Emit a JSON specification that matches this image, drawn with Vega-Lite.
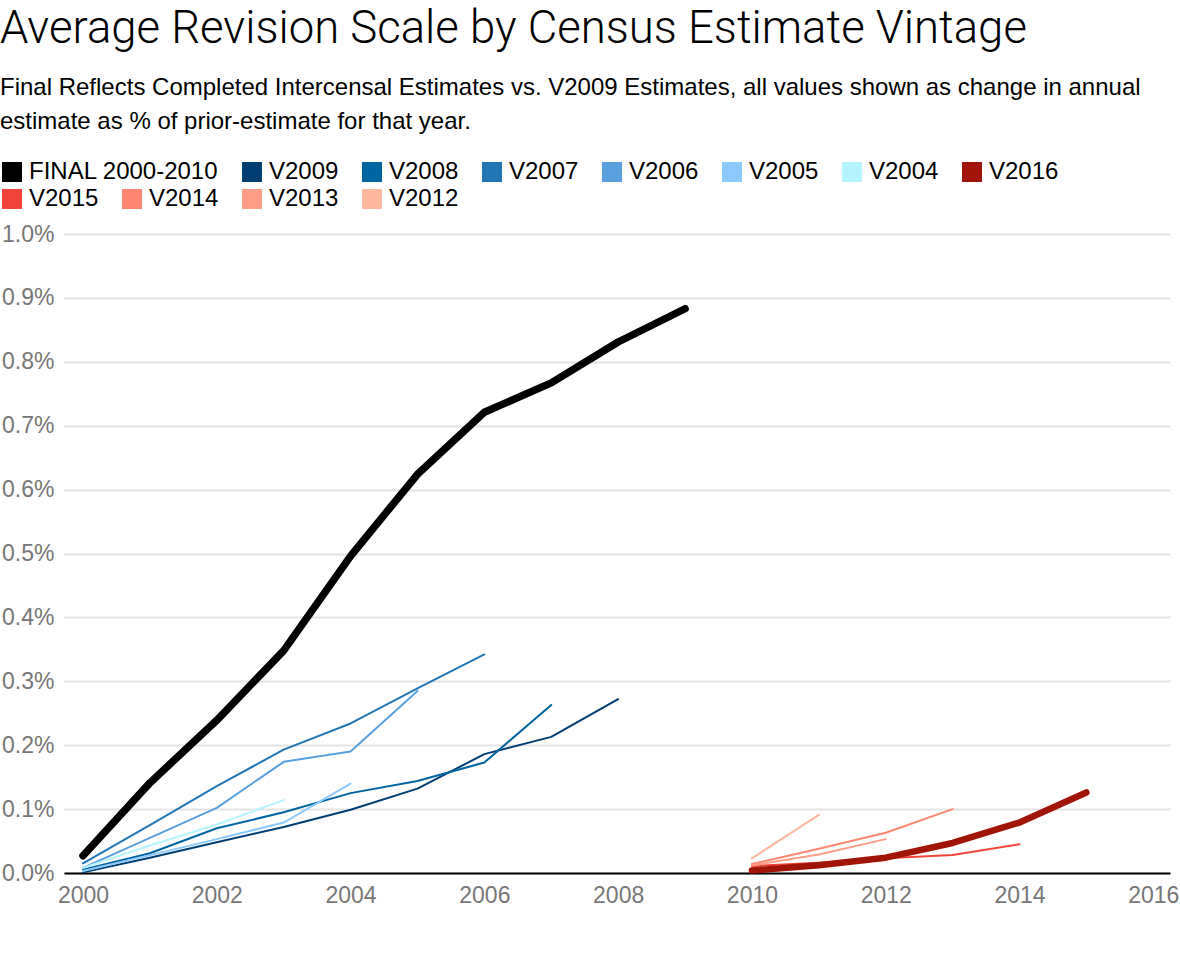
{
  "$schema": "https://vega.github.io/schema/vega-lite/v6.json",
  "width": 1106,
  "height": 639,
  "autosize": {"type": "none"},
  "padding": {"left": 64, "top": 234, "right": 10, "bottom": 107},
  "background": "white",
  "title": {
    "text": "Average Revision Scale by Census Estimate Vintage",
    "subtitle": ["Final Reflects Completed Intercensal Estimates vs. V2009 Estimates, all values shown as change in annual", "estimate as % of prior-estimate for that year."],
    "anchor": "start",
    "frame": "bounds",
    "font": "Roboto",
    "fontWeight": 300,
    "fontSize": 45.5,
    "color": "black",
    "dy": -22,
    "subtitleFont": "Liberation Sans",
    "subtitleFontSize": 24,
    "subtitleColor": "black",
    "subtitleLineHeight": 34,
    "subtitlePadding": 24,
    "offset": 4
  },
  "config": {"view": {"stroke": null}, "font": "Liberation Sans"},
  "data": {
    "values": [
      {"series": "V2009", "year": 2000, "value": 0.001},
      {"series": "V2009", "year": 2001, "value": 0.024},
      {"series": "V2009", "year": 2002, "value": 0.048},
      {"series": "V2009", "year": 2003, "value": 0.072},
      {"series": "V2009", "year": 2004, "value": 0.099},
      {"series": "V2009", "year": 2005, "value": 0.132},
      {"series": "V2009", "year": 2006, "value": 0.186},
      {"series": "V2009", "year": 2007, "value": 0.213},
      {"series": "V2009", "year": 2008, "value": 0.272},
      {"series": "V2008", "year": 2000, "value": 0.005},
      {"series": "V2008", "year": 2001, "value": 0.031},
      {"series": "V2008", "year": 2002, "value": 0.070},
      {"series": "V2008", "year": 2003, "value": 0.095},
      {"series": "V2008", "year": 2004, "value": 0.125},
      {"series": "V2008", "year": 2005, "value": 0.144},
      {"series": "V2008", "year": 2006, "value": 0.173},
      {"series": "V2008", "year": 2007, "value": 0.263},
      {"series": "V2007", "year": 2000, "value": 0.015},
      {"series": "V2007", "year": 2001, "value": 0.075},
      {"series": "V2007", "year": 2002, "value": 0.136},
      {"series": "V2007", "year": 2003, "value": 0.193},
      {"series": "V2007", "year": 2004, "value": 0.234},
      {"series": "V2007", "year": 2005, "value": 0.289},
      {"series": "V2007", "year": 2006, "value": 0.342},
      {"series": "V2006", "year": 2000, "value": 0.008},
      {"series": "V2006", "year": 2001, "value": 0.055},
      {"series": "V2006", "year": 2002, "value": 0.102},
      {"series": "V2006", "year": 2003, "value": 0.174},
      {"series": "V2006", "year": 2004, "value": 0.190},
      {"series": "V2006", "year": 2005, "value": 0.285},
      {"series": "V2005", "year": 2000, "value": 0.003},
      {"series": "V2005", "year": 2001, "value": 0.028},
      {"series": "V2005", "year": 2002, "value": 0.053},
      {"series": "V2005", "year": 2003, "value": 0.079},
      {"series": "V2005", "year": 2004, "value": 0.140},
      {"series": "V2004", "year": 2000, "value": 0.008},
      {"series": "V2004", "year": 2001, "value": 0.043},
      {"series": "V2004", "year": 2002, "value": 0.076},
      {"series": "V2004", "year": 2003, "value": 0.114},
      {"series": "V2015", "year": 2010, "value": 0.011},
      {"series": "V2015", "year": 2011, "value": 0.016},
      {"series": "V2015", "year": 2012, "value": 0.023},
      {"series": "V2015", "year": 2013, "value": 0.028},
      {"series": "V2015", "year": 2014, "value": 0.045},
      {"series": "V2014", "year": 2010, "value": 0.014},
      {"series": "V2014", "year": 2011, "value": 0.038},
      {"series": "V2014", "year": 2012, "value": 0.063},
      {"series": "V2014", "year": 2013, "value": 0.100},
      {"series": "V2013", "year": 2010, "value": 0.012},
      {"series": "V2013", "year": 2011, "value": 0.029},
      {"series": "V2013", "year": 2012, "value": 0.053},
      {"series": "V2012", "year": 2010, "value": 0.023},
      {"series": "V2012", "year": 2011, "value": 0.091},
      {"series": "V2016", "year": 2010, "value": 0.004},
      {"series": "V2016", "year": 2011, "value": 0.012},
      {"series": "V2016", "year": 2012, "value": 0.024},
      {"series": "V2016", "year": 2013, "value": 0.047},
      {"series": "V2016", "year": 2014, "value": 0.079},
      {"series": "V2016", "year": 2015, "value": 0.126},
      {"series": "FINAL 2000-2010", "year": 2000, "value": 0.027},
      {"series": "FINAL 2000-2010", "year": 2001, "value": 0.141},
      {"series": "FINAL 2000-2010", "year": 2002, "value": 0.239},
      {"series": "FINAL 2000-2010", "year": 2003, "value": 0.348},
      {"series": "FINAL 2000-2010", "year": 2004, "value": 0.496},
      {"series": "FINAL 2000-2010", "year": 2005, "value": 0.624},
      {"series": "FINAL 2000-2010", "year": 2006, "value": 0.721},
      {"series": "FINAL 2000-2010", "year": 2007, "value": 0.767},
      {"series": "FINAL 2000-2010", "year": 2008, "value": 0.831},
      {"series": "FINAL 2000-2010", "year": 2009, "value": 0.883}
    ]
  },
  "encoding": {
    "x": {
      "field": "year",
      "type": "quantitative",
      "scale": {"domain": [1999.716, 2016.25], "nice": false, "zero": false},
      "axis": {
        "values": [2000, 2002, 2004, 2006, 2008, 2010, 2012, 2014, 2016],
        "format": "d",
        "title": null,
        "grid": false,
        "ticks": false,
        "domainColor": "black",
        "domainWidth": 2,
        "labelFont": "Liberation Sans",
        "labelFontSize": 23,
        "labelColor": "#777777",
        "labelPadding": 11,
        "labelFlush": false
      }
    },
    "y": {
      "field": "value",
      "type": "quantitative",
      "scale": {"domain": [0, 1], "nice": false},
      "axis": {
        "values": [0, 0.1, 0.2, 0.3, 0.4, 0.5, 0.6, 0.7, 0.8, 0.9, 1.0],
        "labelExpr": "format(datum.value, '.1f') + '%'",
        "title": null,
        "domain": false,
        "ticks": false,
        "gridColor": "#e3e3e3",
        "gridWidth": 2,
        "labelFont": "Liberation Sans",
        "labelFontSize": 23,
        "labelColor": "#777777",
        "labelPadding": 10
      }
    }
  },
  "layer": [
    {
      "transform": [{"filter": {"field": "series", "oneOf": ["V2009", "V2008", "V2007", "V2006", "V2005", "V2004"]}}],
      "mark": {"type": "line", "strokeWidth": 2, "strokeCap": "round", "strokeJoin": "round"},
      "encoding": {
        "color": {
          "field": "series",
          "type": "nominal",
          "scale": {
            "domain": ["FINAL 2000-2010", "V2009", "V2008", "V2007", "V2006", "V2005", "V2004", "V2016"],
            "range": ["#000000", "#003d73", "#0064a0", "#2376b6", "#5aa0de", "#8dc9fd", "#b5f4fc", "#a11508"]
          },
          "legend": {
            "orient": "none",
            "legendX": -64,
            "legendY": -74,
            "direction": "horizontal",
            "title": null,
            "symbolType": "square",
            "symbolSize": 400,
            "symbolStrokeWidth": 0,
            "labelFont": "Liberation Sans",
            "labelFontSize": 24,
            "labelColor": "black",
            "labelOffset": 5,
            "labelLimit": 400,
            "columnPadding": 21,
            "encode": {"symbols": {"update": {"fill": {"scale": "color", "field": "value"}, "fillOpacity": {"value": 1}}}}
          }
        }
      }
    },
    {
      "transform": [{"filter": {"field": "series", "oneOf": ["V2015", "V2014", "V2013", "V2012"]}}],
      "mark": {"type": "line", "strokeWidth": 2, "strokeCap": "round", "strokeJoin": "round"},
      "encoding": {
        "stroke": {
          "field": "series",
          "type": "nominal",
          "scale": {
            "domain": ["V2015", "V2014", "V2013", "V2012"],
            "range": ["#f0443a", "#ff8673", "#fe9e88", "#ffb7a0"]
          },
          "legend": {
            "orient": "none",
            "legendX": -64,
            "legendY": -47,
            "direction": "horizontal",
            "title": null,
            "symbolType": "square",
            "symbolSize": 400,
            "symbolStrokeWidth": 0,
            "labelFont": "Liberation Sans",
            "labelFontSize": 24,
            "labelColor": "black",
            "labelOffset": 5,
            "labelLimit": 400,
            "columnPadding": 21,
            "encode": {"symbols": {"update": {"fill": {"scale": "stroke", "field": "value"}, "fillOpacity": {"value": 1}}}}
          }
        }
      }
    },
    {
      "transform": [{"filter": {"field": "series", "equal": "V2016"}}],
      "mark": {"type": "line", "strokeWidth": 6.5, "strokeCap": "round", "strokeJoin": "round"},
      "encoding": {
        "color": {
          "field": "series",
          "type": "nominal",
          "scale": {
            "domain": ["FINAL 2000-2010", "V2009", "V2008", "V2007", "V2006", "V2005", "V2004", "V2016"],
            "range": ["#000000", "#003d73", "#0064a0", "#2376b6", "#5aa0de", "#8dc9fd", "#b5f4fc", "#a11508"]
          }
        }
      }
    },
    {
      "transform": [{"filter": {"field": "series", "equal": "FINAL 2000-2010"}}],
      "mark": {"type": "line", "strokeWidth": 7.5, "strokeCap": "round", "strokeJoin": "round"},
      "encoding": {
        "color": {
          "field": "series",
          "type": "nominal",
          "scale": {
            "domain": ["FINAL 2000-2010", "V2009", "V2008", "V2007", "V2006", "V2005", "V2004", "V2016"],
            "range": ["#000000", "#003d73", "#0064a0", "#2376b6", "#5aa0de", "#8dc9fd", "#b5f4fc", "#a11508"]
          }
        }
      }
    }
  ]
}
